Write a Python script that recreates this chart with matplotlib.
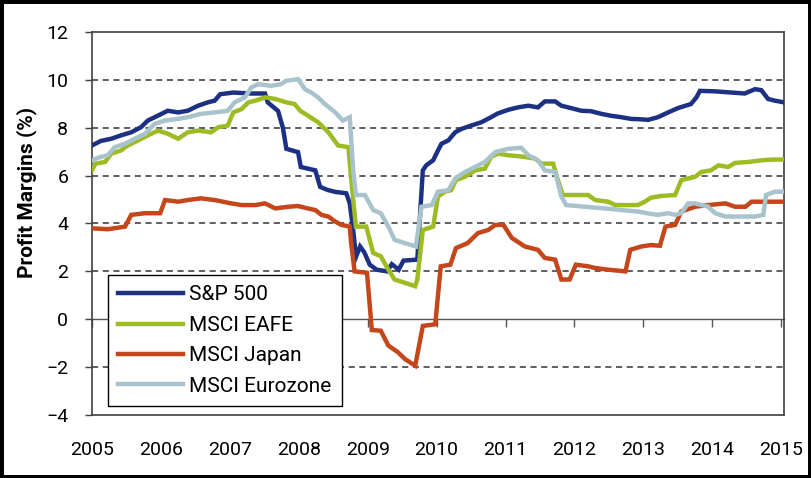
import matplotlib
matplotlib.use('Agg')
import matplotlib.pyplot as plt
from matplotlib.patches import Rectangle

plt.rcParams['font.family'] = ['Roboto', 'DejaVu Sans']

# data (decimal year, profit margin %)
sp_dates = [2005.00, 2005.13, 2005.28, 2005.42, 2005.57, 2005.71, 2005.81, 2005.96, 2006.10, 2006.25,
            2006.39, 2006.54, 2006.68, 2006.78, 2006.86, 2007.05, 2007.30, 2007.51, 2007.55, 2007.70,
            2007.77, 2007.82, 2007.99, 2008.03, 2008.24, 2008.31, 2008.42, 2008.53, 2008.69, 2008.74,
            2008.79, 2008.83, 2008.89, 2008.95, 2009.03, 2009.13, 2009.28, 2009.35, 2009.45, 2009.52,
            2009.72, 2009.80, 2009.85, 2009.95, 2010.02, 2010.07, 2010.17, 2010.27, 2010.36, 2010.50,
            2010.65, 2010.79, 2010.89, 2011.04, 2011.18, 2011.33, 2011.47, 2011.57, 2011.72, 2011.81,
            2011.95, 2012.10, 2012.24, 2012.39, 2012.53, 2012.68, 2012.82, 2012.97, 2013.07, 2013.21,
            2013.36, 2013.50, 2013.69, 2013.77, 2013.82, 2014.04, 2014.28, 2014.47, 2014.62, 2014.71,
            2014.81, 2014.91, 2015.04]
sp_vals = [7.26, 7.45, 7.54, 7.68, 7.81, 8.02, 8.30, 8.51, 8.71, 8.64,
           8.71, 8.92, 9.06, 9.13, 9.40, 9.47, 9.43, 9.43, 9.06, 8.70,
           8.00, 7.12, 6.98, 6.36, 6.22, 5.53, 5.40, 5.32, 5.26, 4.84,
           3.73, 2.60, 3.04, 2.80, 2.28, 2.07, 2.00, 2.30, 2.07, 2.45,
           2.49, 6.22, 6.43, 6.64, 7.05, 7.33, 7.47, 7.81, 7.95, 8.09,
           8.23, 8.44, 8.60, 8.75, 8.85, 8.92, 8.85, 9.10, 9.10, 8.92,
           8.82, 8.71, 8.69, 8.58, 8.50, 8.44, 8.37, 8.35, 8.33, 8.44,
           8.64, 8.82, 8.99, 9.27, 9.54, 9.52, 9.47, 9.43, 9.61, 9.57,
           9.20, 9.13, 9.06]

eafe_dates = [2005.00, 2005.05, 2005.19, 2005.28, 2005.42, 2005.52, 2005.67, 2005.81, 2005.96, 2006.10,
              2006.25, 2006.39, 2006.54, 2006.73, 2006.83, 2006.97, 2007.05, 2007.17, 2007.27, 2007.37,
              2007.51, 2007.66, 2007.82, 2007.94, 2008.02, 2008.13, 2008.28, 2008.43, 2008.57, 2008.72,
              2008.79, 2008.83, 2008.98, 2009.08, 2009.19, 2009.30, 2009.39, 2009.54, 2009.69, 2009.72,
              2009.80, 2009.95, 2010.02, 2010.12, 2010.21, 2010.28, 2010.41, 2010.56, 2010.70, 2010.79,
              2010.89, 2011.04, 2011.23, 2011.43, 2011.52, 2011.69, 2011.76, 2011.83, 2012.20, 2012.30,
              2012.49, 2012.59, 2012.92, 2013.02, 2013.11, 2013.26, 2013.46, 2013.55, 2013.75, 2013.84,
              2013.98, 2014.09, 2014.23, 2014.33, 2014.52, 2014.72, 2014.86, 2015.04]
eafe_vals = [6.22, 6.50, 6.57, 6.92, 7.05, 7.26, 7.47, 7.68, 7.88, 7.75,
             7.54, 7.81, 7.88, 7.81, 8.02, 8.09, 8.64, 8.78, 9.06, 9.13,
             9.27, 9.20, 9.06, 8.99, 8.71, 8.51, 8.23, 7.81, 7.26, 7.19,
             4.98, 3.87, 3.87, 2.77, 2.63, 2.07, 1.66, 1.52, 1.38, 1.66,
             3.73, 3.87, 5.12, 5.33, 5.39, 5.81, 5.95, 6.22, 6.29, 6.78,
             6.92, 6.85, 6.80, 6.71, 6.50, 6.50, 5.81, 5.19, 5.19, 4.98,
             4.91, 4.77, 4.77, 4.91, 5.08, 5.15, 5.19, 5.81, 5.95, 6.15,
             6.22, 6.43, 6.36, 6.53, 6.57, 6.64, 6.67, 6.67]

japan_dates = [2005.00, 2005.23, 2005.48, 2005.57, 2005.77, 2005.99, 2006.06, 2006.25, 2006.39, 2006.58,
               2006.78, 2007.02, 2007.17, 2007.37, 2007.51, 2007.66, 2007.85, 2007.99, 2008.13, 2008.24,
               2008.33, 2008.43, 2008.53, 2008.62, 2008.74, 2008.76, 2008.81, 2008.99, 2009.06, 2009.19,
               2009.30, 2009.44, 2009.54, 2009.69, 2009.80, 2009.98, 2010.06, 2010.20, 2010.28, 2010.45,
               2010.60, 2010.75, 2010.85, 2010.97, 2011.09, 2011.28, 2011.47, 2011.57, 2011.72, 2011.81,
               2011.93, 2012.02, 2012.20, 2012.30, 2012.49, 2012.74, 2012.81, 2012.97, 2013.11, 2013.24,
               2013.32, 2013.46, 2013.55, 2013.75, 2013.94, 2014.19, 2014.33, 2014.48, 2014.57, 2015.04]
japan_vals = [3.80, 3.76, 3.87, 4.36, 4.43, 4.43, 4.98, 4.91, 4.98, 5.05,
              4.98, 4.84, 4.77, 4.77, 4.84, 4.63, 4.70, 4.73, 4.63, 4.56,
              4.36, 4.29, 4.08, 3.94, 3.87, 3.18, 2.00, 1.94, -0.45, -0.48,
              -1.10, -1.38, -1.66, -1.94, -0.28, -0.21, 2.21, 2.28, 2.97, 3.18,
              3.60, 3.73, 3.94, 3.94, 3.40, 3.04, 2.90, 2.56, 2.49, 1.66,
              1.66, 2.28, 2.21, 2.14, 2.07, 2.00, 2.90, 3.04, 3.10, 3.07,
              3.87, 3.94, 4.50, 4.70, 4.77, 4.84, 4.70, 4.70, 4.91, 4.91]

euro_dates = [2005.00, 2005.09, 2005.23, 2005.33, 2005.48, 2005.62, 2005.77, 2005.91, 2006.06, 2006.25,
              2006.39, 2006.58, 2006.78, 2006.97, 2007.07, 2007.22, 2007.31, 2007.41, 2007.60, 2007.74,
              2007.82, 2007.99, 2008.09, 2008.18, 2008.28, 2008.38, 2008.53, 2008.64, 2008.74, 2008.79,
              2008.83, 2008.96, 2009.08, 2009.19, 2009.30, 2009.39, 2009.54, 2009.70, 2009.78, 2009.93,
              2010.02, 2010.17, 2010.27, 2010.41, 2010.56, 2010.70, 2010.85, 2011.04, 2011.23, 2011.33,
              2011.47, 2011.57, 2011.72, 2011.81, 2011.88, 2012.15, 2012.44, 2012.68, 2012.92, 2013.11,
              2013.21, 2013.36, 2013.46, 2013.55, 2013.65, 2013.75, 2013.94, 2014.04, 2014.19, 2014.62,
              2014.74, 2014.78, 2014.91, 2015.04]
euro_vals = [6.64, 6.75, 6.85, 7.19, 7.33, 7.54, 7.75, 8.16, 8.30, 8.37,
             8.44, 8.58, 8.64, 8.71, 9.06, 9.27, 9.68, 9.82, 9.75, 9.82,
             9.96, 10.03, 9.61, 9.47, 9.27, 8.99, 8.64, 8.30, 8.44, 6.22,
             5.19, 5.19, 4.56, 4.43, 3.87, 3.32, 3.18, 3.04, 4.70, 4.77,
             5.33, 5.39, 5.88, 6.15, 6.36, 6.57, 6.98, 7.12, 7.16, 6.85,
             6.64, 6.22, 6.15, 5.12, 4.77, 4.70, 4.63, 4.56, 4.50, 4.40,
             4.36, 4.43, 4.36, 4.43, 4.84, 4.84, 4.70, 4.43, 4.29, 4.29,
             4.36, 5.19, 5.33, 5.33]

years = list(range(2005, 2016))
yticks = list(range(-4, 13, 2))

fig = plt.figure(figsize=(8.11, 4.78), dpi=100)
ax = fig.add_axes([0.1134, 0.1318, 0.8533, 0.8013])

lw = 3.2
ax.plot(sp_dates, sp_vals, color='#1d3184', lw=lw, label='S&P 500', solid_joinstyle='miter', zorder=3)
ax.plot(eafe_dates, eafe_vals, color='#9dbb22', lw=lw, label='MSCI EAFE', solid_joinstyle='miter', zorder=3)
ax.plot(japan_dates, japan_vals, color='#c4461a', lw=lw, label='MSCI Japan', solid_joinstyle='miter', zorder=3)
ax.plot(euro_dates, euro_vals, color='#a9c3cc', lw=lw, label='MSCI Eurozone', solid_joinstyle='miter', zorder=3)

ax.set_xlim(2005, 2015.04)
ax.set_ylim(-4, 12)

# dashed gridlines
for v in yticks:
    if v not in (-4, 0, 12):
        ax.axhline(v, color='#333333', lw=1.1, ls=(0, (4, 3)), zorder=1)

for s in ax.spines.values():
    s.set_color('#404040')
    s.set_linewidth(1.2)

ax.set_yticks(yticks)
ax.tick_params(axis='y', direction='out', length=5, width=1, color='#404040',
               labelsize=14, pad=12)
ax.set_xticks(years)
ax.tick_params(axis='x', length=0, labelsize=14, pad=19)

# zero axis with year ticks
sec = ax.secondary_xaxis(0.25)
sec.set_xticks(years)
sec.set_xticklabels([])
sec.tick_params(direction='out', length=6, width=1, color='#555555')
sec.spines['bottom'].set_color('#555555')
sec.spines['bottom'].set_linewidth(1)

ax.set_ylabel('Profit Margins (%)', fontsize=15, fontweight='bold')
ax.yaxis.set_label_coords(-0.08, 0.58)

leg = ax.legend(loc='lower left', bbox_to_anchor=(0.023, 0.023), fontsize=15,
                frameon=True, fancybox=False, edgecolor='black', framealpha=1,
                handlelength=3.1, handletextpad=0.3, labelspacing=0.55, borderpad=0.5,
                borderaxespad=0)
leg.get_frame().set_linewidth(1)
leg.set_zorder(5)

# outer frame of the picture
fig.patches.append(Rectangle((0, 0), 1, 1, transform=fig.transFigure, fill=False,
                             edgecolor='black', lw=5))

fig.savefig('out.png', dpi=100)
